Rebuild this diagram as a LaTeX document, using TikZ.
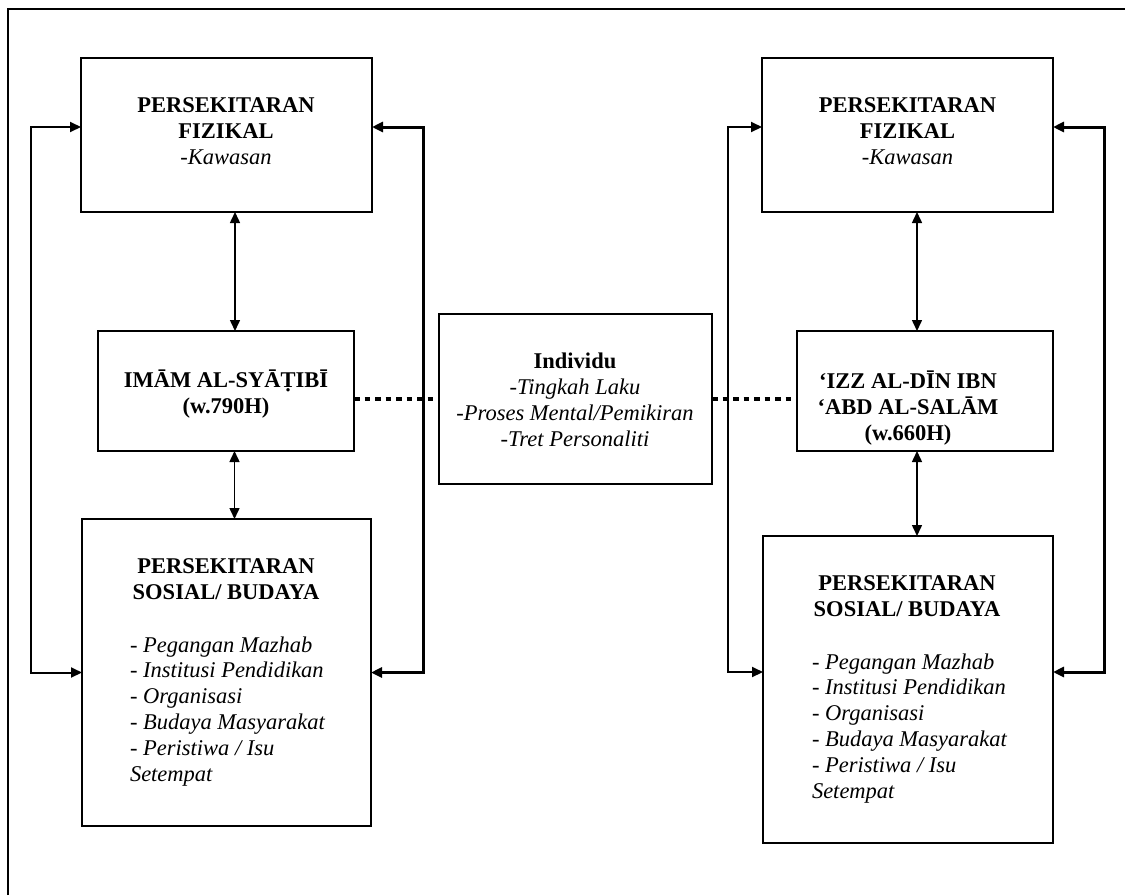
\documentclass[tikz,border=0pt]{standalone}
\usepackage{fontspec}
\setmainfont{Liberation Serif}
\usetikzlibrary{arrows.meta}
\begin{document}
\begin{tikzpicture}[x=1pt,y=-1pt,
  box/.style={draw, line width=1.3pt, inner sep=0pt, outer sep=0pt},
  % multi-line texts are placed by the baseline of their last line
  txt/.style={inner sep=0pt, outer sep=0pt, anchor=base, align=center,
    font=\fontsize{22.5}{26}\selectfont},
  lst/.style={inner sep=0pt, outer sep=0pt, anchor=base west, align=left,
    font=\fontsize{22.5}{25.8}\selectfont\itshape},
  both/.style={{Triangle[length=11pt,width=10pt]}-{Triangle[length=11pt,width=10pt]}},
  dots/.style={line width=4.5pt, dash pattern=on 5.5pt off 5pt}]
\useasboundingbox (0,0) rectangle (1125,895);

% frame (only its top and left edges fall inside the page)
\draw[line width=2.7pt] (8,895) -- (8,9) -- (1125,9);

% ---- left group ----
\node[box, line width=2.4pt, minimum width=291pt, minimum height=154pt] (lf) at (226.5,135) {};
\node[box, minimum width=256pt, minimum height=120pt] (imam) at (226,391) {};
\node[box, minimum width=289pt, minimum height=307pt] (ls) at (226.5,672.5) {};

\node[txt] (lft) at (226,164) {\bfseries PERSEKITARAN\\\bfseries FIZIKAL\\\itshape -Kawasan};
\node[txt] (imamt) at (226,413) {\bfseries IMĀM AL-SYĀṬIBĪ\\\bfseries (w.790H)};
\node[txt] (lsh) at (226,599) {\bfseries PERSEKITARAN\\\bfseries SOSIAL/ BUDAYA};
\node[lst] (lsl) at (130,781) {- Pegangan Mazhab\\- Institusi Pendidikan\\- Organisasi\\- Budaya Masyarakat\\- Peristiwa / Isu\\Setempat};

% ---- centre ----
\node[box, minimum width=273pt, minimum height=170pt] (ind) at (575.5,399) {};
\node[txt] (indt) at (575,446) {\bfseries Individu\\\itshape -Tingkah Laku\\\itshape -Proses Mental/Pemikiran\\\itshape -Tret Personaliti};

% ---- right group ----
\node[box, minimum width=291pt, minimum height=154pt] (rf) at (907.5,135) {};
\node[box, minimum width=256pt, minimum height=120pt] (izz) at (925,391) {};
\node[box, minimum width=290pt, minimum height=307pt] (rs) at (908,689.5) {};

\node[txt] (rft) at (907.5,164) {\bfseries PERSEKITARAN\\\bfseries FIZIKAL\\\itshape -Kawasan};
\node[txt] (izzt) at (908,440) {\bfseries ‘IZZ AL-DĪN IBN\\\bfseries ‘ABD AL-SALĀM\\\bfseries (w.660H)};
\node[txt] (rsh) at (907,616) {\bfseries PERSEKITARAN\\\bfseries SOSIAL/ BUDAYA};
\node[lst] (rsl) at (812,798) {- Pegangan Mazhab\\- Institusi Pendidikan\\- Organisasi\\- Budaya Masyarakat\\- Peristiwa / Isu\\Setempat};

% ---- dotted links to the individual ----
\draw[dots] (imam.east |- ind.west) -- (ind.west);
\draw[dots] (ind.east) -- (izz.west |- ind.east);

% ---- vertical two-way links ----
\draw[both, line width=1.5pt] ([xshift=8.5pt]lf.south) -- ([xshift=8.5pt]lf.south |- imam.north);
\draw[both, line width=1.5pt] ([xshift=8.5pt]imam.south) -- ([xshift=8.5pt]imam.south |- ls.north);
\draw[both, line width=1.5pt] ([xshift=9.5pt]rf.south) -- ([xshift=9.5pt]rf.south |- izz.north);
\draw[both, line width=1.5pt] ([xshift=-8pt]izz.south) -- ([xshift=-8pt]izz.south |- rs.north);

% ---- feedback loops ----
\draw[both, line width=2pt] ([yshift=8pt]lf.west) -- ++(-50,0) |- (ls.west);
\draw[both, line width=3pt] ([yshift=8pt]lf.east) -- ++(51,0) |- (ls.east);
\draw[both, line width=2pt] ([yshift=8pt]rf.west) -- ++(-34,0) |- ([yshift=17.5pt]rs.west);
\draw[both, line width=3pt] ([yshift=8pt]rf.east) -- ++(51,0) |- ([yshift=17.5pt]rs.east);
\end{tikzpicture}
\end{document}
